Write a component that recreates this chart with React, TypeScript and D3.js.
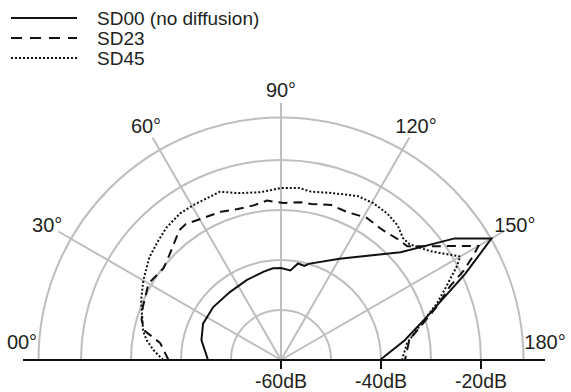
import React from "react";
import * as d3 from "d3";

// angle (deg, 0 = left, 180 = right) and level (dB)
const sd00Angles = [0, 14, 25, 38, 53, 67, 79, 85, 90, 96, 100, 104, 106, 120, 138, 145, 150, 155, 164, 171, 180];
const sd00Values = [-45.4, -43.6, -42.8, -42.8, -43.0, -42.6, -42.0, -41.6, -41.6, -42.0, -40.4, -40.6, -40.0, -36.6, -27.8, -17.6, -11.4, -19.4, -30.0, -35.0, -40.2];

const sd23Angles = [0, 8, 12, 16, 21, 30, 38, 43, 52, 55, 61, 68, 74, 80, 85, 91, 97, 101, 108, 114, 121, 128, 134, 138, 150, 151.5, 154, 156.5, 161, 165.5, 171, 180];
const sd23Values = [-37.5, -35.6, -32.2, -31.0, -30.4, -29.4, -30.2, -29.4, -27.0, -26.8, -27.6, -28.0, -28.6, -28.6, -28.0, -28.6, -28.2, -28.2, -27.4, -27.6, -26.8, -27.0, -26.4, -26.0, -14.4, -16.2, -19.4, -23.2, -27.0, -30.6, -34.0, -35.2];

const sd45Angles = [0, 4.5, 8.5, 12, 23, 30, 38, 44, 49, 55.5, 60.5, 70, 76, 83, 90, 96, 100, 106, 115, 120.5, 126, 131, 135, 138, 144, 150, 152, 156, 160, 163.5, 167.5, 172.5, 180];
const sd45Values = [-36.4, -34.4, -32.8, -31.8, -29.6, -28.2, -26.6, -25.8, -25.0, -24.4, -24.4, -24.2, -25.6, -26.2, -25.6, -25.4, -25.8, -25.2, -23.8, -23.6, -23.8, -24.4, -25.5, -25.4, -23.0, -18.6, -20.2, -23.8, -26.8, -29.6, -32.2, -34.6, -35.8];

const seriesNames = ["SD00 (no diffusion)", "SD23", "SD45"];
const ringValues = [-50, -40, -30, -20, -11.5];
const spokeAngles = [0, 30, 60, 90, 120, 150, 180];
const spokeLabels = ["00°", "30°", "60°", "90°", "120°", "150°", "180°"];
const radialTicks = [-60, -40, -20];
const radialTickLabels = ["-60dB", "-40dB", "-20dB"];

const W = 571;
const H = 392;
const cx = 281;
const cy = 360;
const FONT = "'Liberation Sans', Arial, sans-serif";
const TXT = "#231f20";
const GRID = "#bebebe";
const FS = 20;

export default function App() {
  const r = d3.scaleLinear().domain([-60, -11.5]).range([0, 242.5]);
  const toRad = (deg: number) => ((deg - 90) * Math.PI) / 180;
  const line = d3
    .lineRadial<[number, number]>()
    .angle((d) => toRad(d[0]))
    .radius((d) => r(d[1]))
    .curve(d3.curveLinear);

  const series = [
    { name: seriesNames[0], pts: sd00Angles.map((a, i) => [a, sd00Values[i]] as [number, number]), dash: "none" },
    { name: seriesNames[1], pts: sd23Angles.map((a, i) => [a, sd23Values[i]] as [number, number]), dash: "9,6" },
    { name: seriesNames[2], pts: sd45Angles.map((a, i) => [a, sd45Values[i]] as [number, number]), dash: "2,2" },
  ];

  const arc = d3.arc();
  const spokeLen = 257;
  const labelPos = (a: number) => {
    const rad = (a * Math.PI) / 180;
    if (a === 0) return [cx - 259, cy - 18];
    if (a === 180) return [cx + 264, cy - 18];
    const rr = 270;
    return [cx - rr * Math.cos(rad), cy - rr * Math.sin(rad)];
  };

  const legendY = [18, 38, 58];

  return (
    <svg width={W} height={H} style={{ position: "absolute", left: 0, top: 0, background: "#fff" }} fontFamily={FONT}>
      <g transform={`translate(${cx},${cy})`}>
        {ringValues.map((v) => (
          <path
            key={v}
            d={arc({ innerRadius: r(v), outerRadius: r(v), startAngle: -Math.PI / 2, endAngle: Math.PI / 2 }) || ""}
            fill="none"
            stroke={GRID}
            strokeWidth={2}
          />
        ))}
        {spokeAngles.slice(1, -1).map((a) => {
          const t = toRad(a);
          return (
            <line key={a} x1={0} y1={0} x2={spokeLen * Math.sin(t)} y2={-spokeLen * Math.cos(t)} stroke={GRID} strokeWidth={2} />
          );
        })}
        {series.map((s) => (
          <path key={s.name} d={line(s.pts) || ""} fill="none" stroke="#111" strokeWidth={2} strokeDasharray={s.dash} strokeLinejoin="miter" />
        ))}
        <line x1={-258} y1={0} x2={264} y2={0} stroke="#111" strokeWidth={2} />
        {radialTicks.map((v, i) => (
          <g key={v} transform={`translate(${r(v)},0)`}>
            <line y1={0} y2={9} stroke="#111" strokeWidth={2} />
            <text y={28} textAnchor="middle" fontSize={19.5} fill={TXT}>
              {radialTickLabels[i]}
            </text>
          </g>
        ))}
      </g>
      {spokeAngles.map((a, i) => {
        const [x, y] = labelPos(a);
        return (
          <text key={a} x={x} y={y + 7} textAnchor="middle" fontSize={FS} fill={TXT}>
            {spokeLabels[i]}
          </text>
        );
      })}
      {series.map((s, i) => (
        <g key={s.name} transform={`translate(0,${legendY[i]})`}>
          <line x1={11} x2={77} y1={0} y2={0} stroke="#111" strokeWidth={2} strokeDasharray={i === 1 ? "11,8" : i === 2 ? "2,2" : "none"} />
          <text x={97} y={7} fontSize={19} fill={TXT}>
            {s.name}
          </text>
        </g>
      ))}
    </svg>
  );
}
